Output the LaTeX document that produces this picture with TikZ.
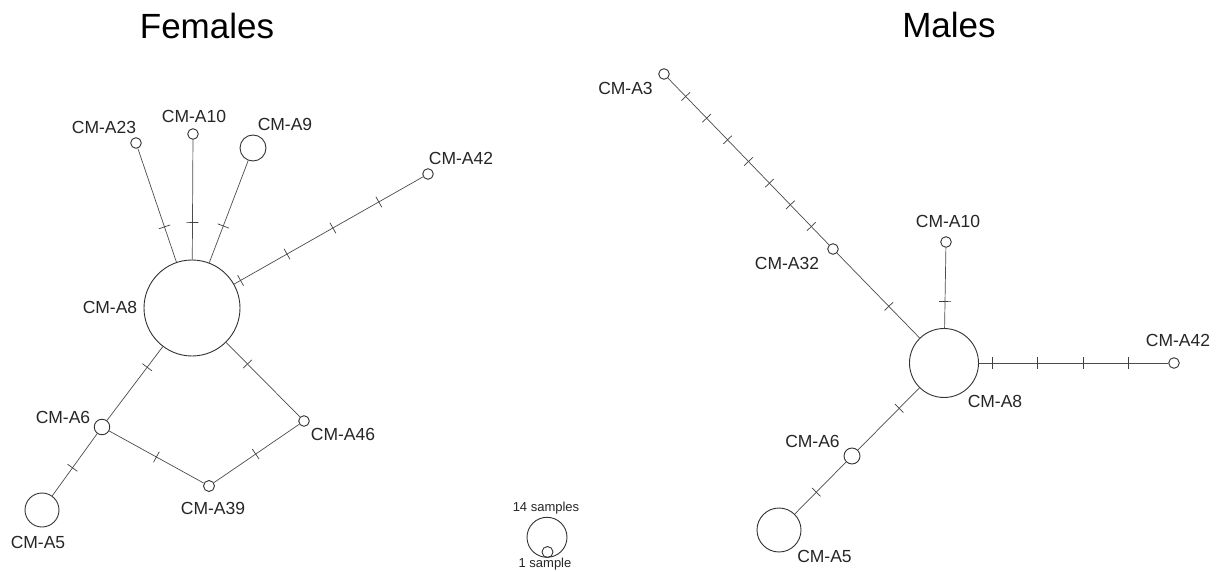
\documentclass[tikz,border=0pt]{standalone}
\usepackage{fontspec}
\setmainfont{Liberation Sans}
\usepackage{xcolor}
\usepackage{tikz}
\usetikzlibrary{decorations.markings}

\begin{document}
\begin{tikzpicture}[x=1pt,y=-1pt,
  hap/.style={circle, draw=black!80, line width=0.9pt, inner sep=0pt, minimum size=#1pt},
  lab/.style={text=black!85, font=\fontsize{17.5}{20}\selectfont, inner sep=0pt},
  ttl/.style={text=black, font=\fontsize{35}{40}\selectfont, inner sep=0pt, anchor=base},
  leg/.style={text=black!85, font=\fontsize{13}{15}\selectfont, inner sep=0pt, anchor=base},
  edge/.style={draw=black!70, line width=0.7pt},
  mut/.style={postaction={decorate, decoration={markings,
    mark=at position #1 with {\draw[black!75, line width=0.7pt] (0,-6) -- (0,6);}}}},
  muts/.style={mut/.list={#1}}]
\fill[white] (0,0) rectangle (1221,572);
\useasboundingbox (0,0) rectangle (1221,572);

\node[ttl] (ftitle) at (207,39) {Females};
\node[ttl] (mtitle) at (949,38) {Males};

% females
\node[hap=96] (fA8) at (192,308) {};
\node[hap=10.6] (fA23) at (136,143) {};
\node[hap=10.6] (fA10) at (193,134) {};
\node[hap=26] (fA9) at (253,148) {};
\node[hap=10.6] (fA42) at (428,174) {};
\node[hap=15.5] (fA6) at (102,427) {};
\node[hap=10.6] (fA46) at (304,421) {};
\node[hap=11] (fA39) at (209,486) {};
\node[hap=34] (fA5) at (42,510) {};

\draw[edge, muts={0.31}] (fA8) -- (fA23);
\draw[edge, muts={0.31}] (fA8) -- (fA10);
\draw[edge, muts={0.36}] (fA8) -- (fA9);
\draw[edge, muts={0.034,0.28,0.523,0.766}] (fA8) -- (fA42);
\draw[edge, muts={0.28}] (fA8) -- (fA6);
\draw[edge, muts={0.29}] (fA8) -- (fA46);
\draw[edge, muts={0.5}] (fA6) -- (fA39);
\draw[edge, muts={0.49}] (fA39) -- (fA46);
\draw[edge, muts={0.55}] (fA6) -- (fA5);

\node[lab] (fA23t) at (104,127) {CM-A23};
\node[lab] (fA10t) at (194,116) {CM-A10};
\node[lab] (fA9t) at (285,124) {CM-A9};
\node[lab] (fA42t) at (461,158) {CM-A42};
\node[lab] (fA8t) at (110,307) {CM-A8};
\node[lab] (fA6t) at (63,417) {CM-A6};
\node[lab] (fA46t) at (343,434.5) {CM-A46};
\node[lab] (fA39t) at (213,508) {CM-A39};
\node[lab] (fA5t) at (38,542.5) {CM-A5};

% males
\node[hap=69] (mA8) at (944,363) {};
\node[hap=10.6] (mA3) at (664,74) {};
\node[hap=10.6] (mA32) at (833,249) {};
\node[hap=10.6] (mA10) at (946,242) {};
\node[hap=10.6] (mA42) at (1174,363) {};
\node[hap=16] (mA6) at (852,456) {};
\node[hap=44] (mA5) at (779,530) {};

\draw[edge, muts={0.11,0.24,0.37,0.50,0.63,0.76,0.89}] (mA3) -- (mA32);
\draw[edge, muts={0.63}] (mA32) -- (mA8);
\draw[edge, muts={0.33}] (mA8) -- (mA10);
\draw[edge, muts={0.073,0.31,0.55,0.79}] (mA8) -- (mA42);
\draw[edge, muts={0.33}] (mA8) -- (mA6);
\draw[edge, muts={0.58}] (mA6) -- (mA5);

\node[lab] (mA3t) at (625.5,88) {CM-A3};
\node[lab] (mA32t) at (787,263.5) {CM-A32};
\node[lab] (mA10t) at (948,221.5) {CM-A10};
\node[lab] (mA42t) at (1178,340) {CM-A42};
\node[lab] (mA8t) at (995,401.5) {CM-A8};
\node[lab] (mA6t) at (812.5,441.5) {CM-A6};
\node[lab] (mA5t) at (824.5,556.5) {CM-A5};

% legend
\node[hap=40] (big) at (547,537.3) {};
\node[hap=11] (small) at (547.5,552) {};
\node[leg] (bigt) at (546,511.7) {14 samples};
\node[leg] (smallt) at (545,567.7) {1 sample};
\end{tikzpicture}
\end{document}
